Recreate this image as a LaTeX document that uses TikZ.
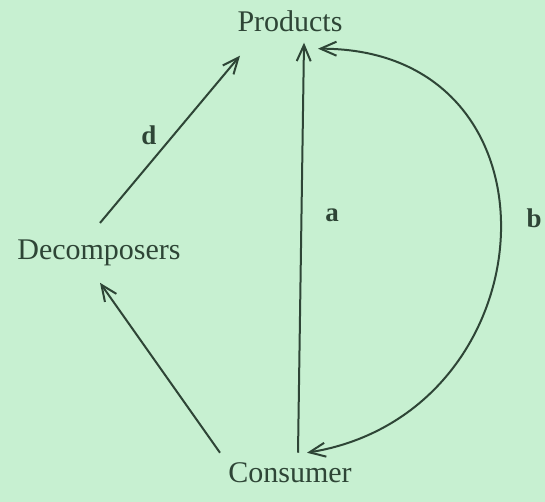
\documentclass[tikz,border=0pt]{standalone}
\usepackage{fontspec}
\setmainfont{Liberation Serif}
\usetikzlibrary{arrows.meta}
\definecolor{paper}{HTML}{C7F0D1}
\definecolor{ink}{HTML}{2E4536}

\begin{document}
\begin{tikzpicture}[x=0.5pt, y=-0.5pt, >={Straight Barb[length=8pt, width=7pt]},
    term/.style={inner sep=0pt, anchor=base, text=ink, font=\fontsize{15}{18}\selectfont},
    lbl/.style={inner sep=0pt, text=ink, font=\fontsize{13.5}{16}\selectfont\bfseries},
    flow/.style={->, draw=ink, line width=1pt}]

  % background
  \fill[paper] (0,0) rectangle (545,502);
  \useasboundingbox (0,0) rectangle (545,502);

  % the three groups
  \node[term] (prod) at (290,32) {Products};
  \node[term] (dec) at (99,259) {Decomposers};
  \node[term] (cons) at (290,482) {Consumer};

  % flows
  \draw[flow] ([shift={(1,-16)}]dec.north) -- ([shift={(-50,23)}]prod.south);
  \draw[flow] ([shift={(-70,-9)}]cons.north) -- ([shift={(1,17)}]dec.south);
  \draw[flow] ([shift={(8,-9)}]cons.north) -- ([shift={(14,10)}]prod.south);
  \draw[flow, <->] ([shift={(28,16)}]prod.south)
    .. controls +(255,0) and +(245,-40) .. ([shift={(17,-9)}]cons.north);

  % labels
  \node[lbl] (ld) at (149,135) {d};
  \node[lbl] (la) at (332,215) {a};
  \node[lbl] (lb) at (534,218) {b};
\end{tikzpicture}
\end{document}
